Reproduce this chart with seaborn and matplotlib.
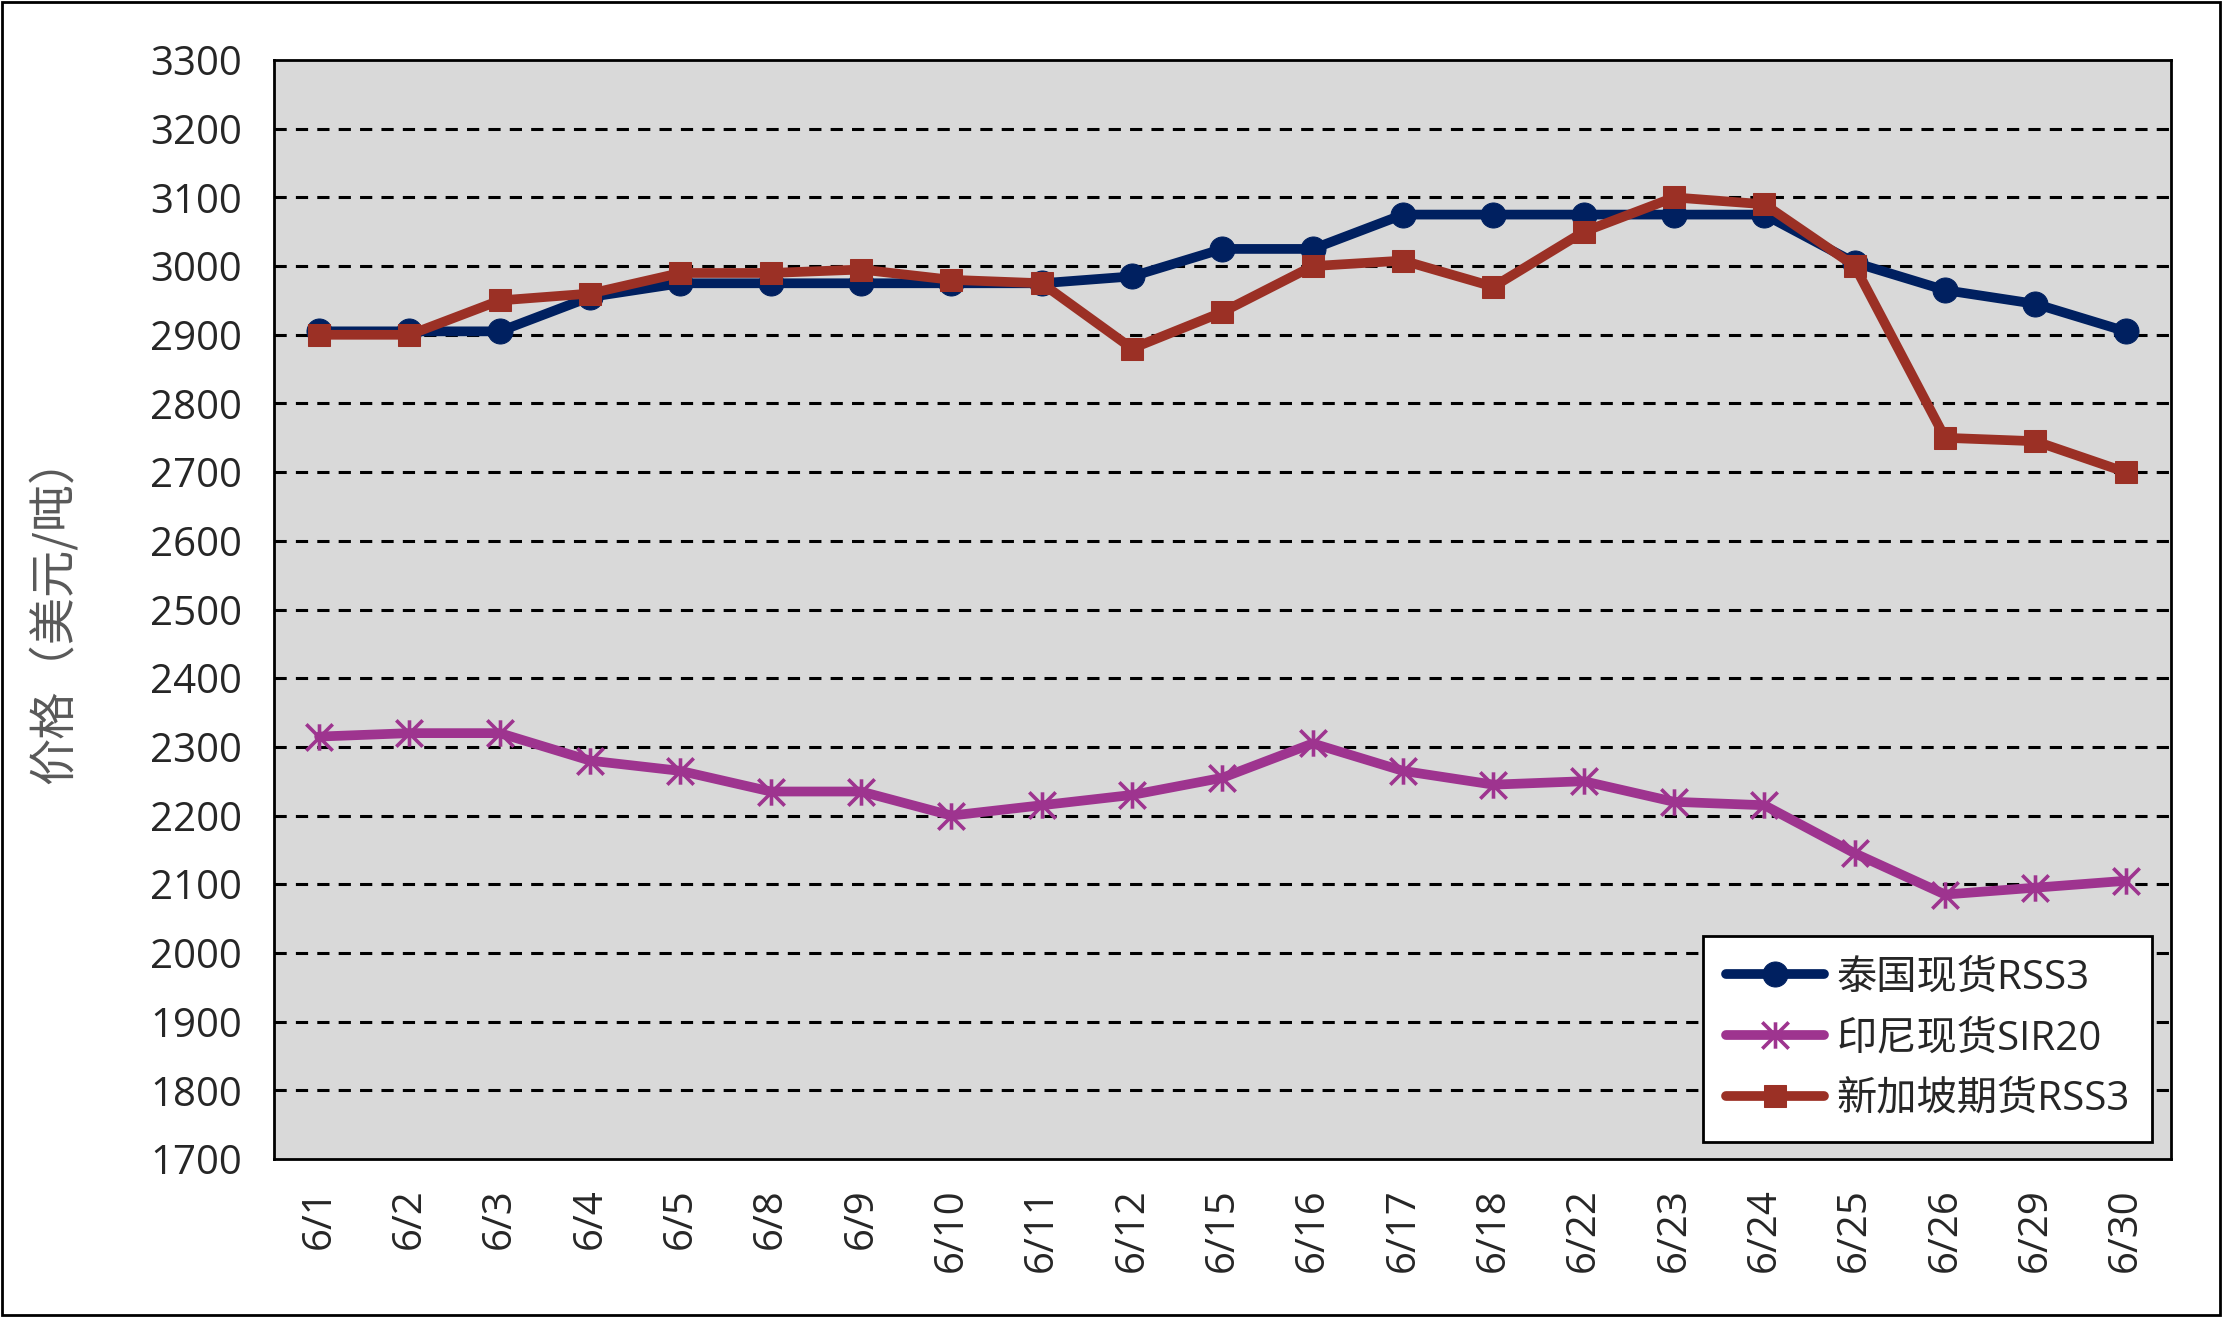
import numpy as np
import pandas as pd
import matplotlib
matplotlib.use('Agg')
import matplotlib.pyplot as plt
from matplotlib.path import Path
from matplotlib.patches import Rectangle
import seaborn as sns

# data
dates = ['6/1', '6/2', '6/3', '6/4', '6/5', '6/8', '6/9', '6/10', '6/11', '6/12',
         '6/15', '6/16', '6/17', '6/18', '6/22', '6/23', '6/24', '6/25', '6/26',
         '6/29', '6/30']
thai_rss3 = [2905, 2905, 2905, 2955, 2975, 2975, 2975, 2975, 2975, 2985,
             3025, 3025, 3075, 3075, 3075, 3075, 3075, 3005, 2965, 2945, 2905]
indo_sir20 = [2315, 2320, 2320, 2280, 2265, 2235, 2235, 2200, 2215, 2230,
              2255, 2305, 2265, 2245, 2250, 2220, 2215, 2145, 2085, 2095, 2105]
sgx_rss3 = [2900, 2900, 2950, 2960, 2990, 2990, 2995, 2980, 2975, 2880,
            2933, 3000, 3008, 2970, 3050, 3100, 3090, 3000, 2750, 2745, 2700]
series_names = ['泰国现货RSS3', '印尼现货SIR20', '新加坡期货RSS3']
y_ticks = list(range(1700, 3301, 100))

sns.set_style('white')
plt.rcParams['font.family'] = ['Open Sans', 'Noto Sans CJK SC', 'DejaVu Sans']

# Excel-style asterisk: vertical bar plus an X
star = Path([(0, -1), (0, 1), (-1, -1), (1, 1), (-1, 1), (1, -1)],
            [Path.MOVETO, Path.LINETO, Path.MOVETO, Path.LINETO, Path.MOVETO, Path.LINETO])

df = pd.DataFrame({'pos': np.arange(len(dates)), 'date': dates,
                   series_names[0]: thai_rss3, series_names[1]: indo_sir20,
                   series_names[2]: sgx_rss3})

fig = plt.figure(figsize=(22.22, 13.17), dpi=100)
ax = fig.add_axes([0.1233, 0.12, 0.8537, 0.8344])
ax.set_facecolor('#D9D9D9')

styles = [
    dict(color='#002060', marker='o', markersize=18, mec='#002060'),
    dict(color='#9E348F', marker=star, markersize=19, mec='#9E348F', mew=2.6, mfc='none'),
    dict(color='#9B3025', marker='s', markersize=16, mec='#9B3025'),
]
for name, st in zip(series_names, styles):
    sns.lineplot(data=df, x='pos', y=name, ax=ax, label=name, linewidth=7,
                 sort=False, solid_capstyle='round', **st)

ax.set_xlim(-0.5, len(dates) - 0.5)
ax.set_ylim(1700, 3300)
ax.set_yticks(y_ticks)
ax.set_yticklabels([str(v) for v in y_ticks], fontsize=29)
ax.set_xticks(np.arange(len(dates)))
ax.set_xticklabels(dates, rotation=90, fontsize=29)
ax.set_xticks(np.arange(len(dates) - 1) + 0.5, minor=True)
ax.tick_params(axis='y', length=0, pad=23)
ax.tick_params(axis='x', which='major', length=0, pad=21)
ax.tick_params(axis='x', which='minor', direction='in', length=13, width=2, color='black')

for v in y_ticks[1:-1]:
    ax.axhline(v, color='black', lw=2.2, ls=(0, (4, 3)), zorder=0.5)

for sp in ax.spines.values():
    sp.set_color('black')
    sp.set_linewidth(2)

ax.set_xlabel('')
ax.set_ylabel('价格（美元/吨）', fontsize=34, color='#595959',
              family=['Noto Sans CJK SC', 'DejaVu Sans'])
ax.yaxis.set_label_coords(-0.103, 0.5)

leg = ax.legend(loc='lower right', bbox_to_anchor=(0.990, 0.0155), fontsize=29,
                frameon=True, fancybox=False, framealpha=1, edgecolor='black',
                handlelength=2.45, handletextpad=0.3, labelspacing=0.5,
                borderpad=0.55, borderaxespad=0)
leg.get_frame().set_linewidth(2)
for t in leg.get_texts():
    t.set_family(['Open Sans', 'Noto Sans CJK SC', 'DejaVu Sans'])

fig.patches.append(Rectangle((0.0008, 0.0012), 0.9984, 0.9976, transform=fig.transFigure,
                             fill=False, edgecolor='black', linewidth=2))

fig.savefig('out.png', dpi=100, facecolor='white')
